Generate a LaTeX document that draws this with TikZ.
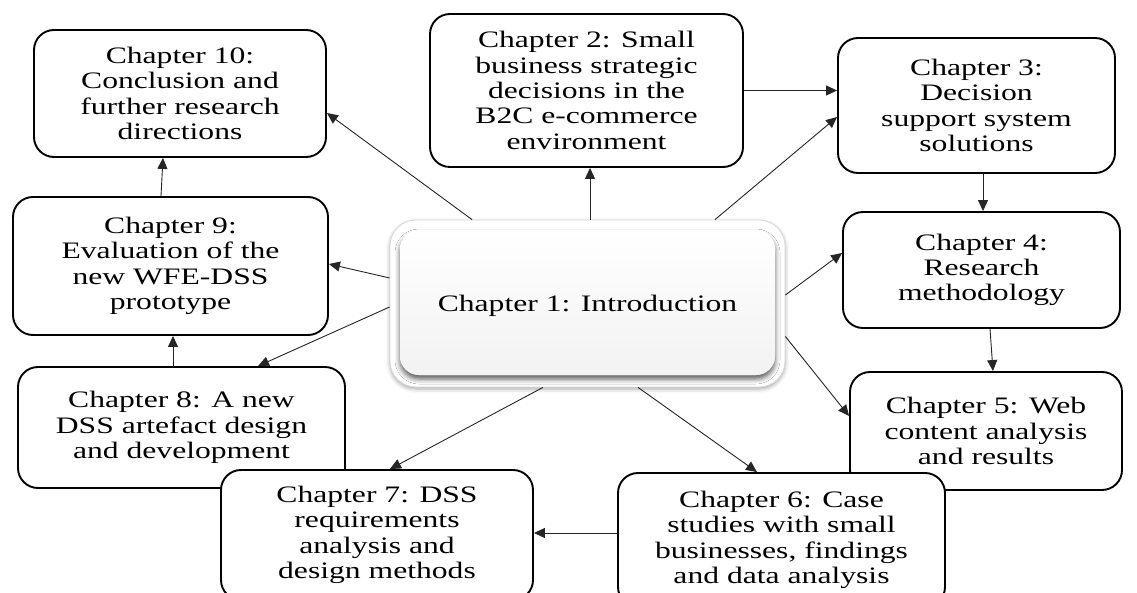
\documentclass[tikz,border=0pt]{standalone}
\usepackage{fontspec}
\setmainfont{Liberation Serif}[FakeStretch=1.34]
\usetikzlibrary{arrows.meta,calc,shadows.blur}

\newcommand\chapfont{\fontsize{23.6}{25.3}\selectfont}
% taller first line, so the text block sits a little lower in its box
\newcommand\toplift{\rule{0pt}{22pt}}

\tikzset{
  chap/.style={draw, line width=1.9pt, rounded corners=20pt, fill=white,
    align=center, font=\chapfont, inner sep=0pt, text=black,
    execute at begin node=\toplift},
  link/.style={line width=0.9pt, draw=black!85,
    -{Triangle[length=11pt,width=10pt]}},
  hub/.style={rounded corners=26pt, fill=white, draw=gray!30, line width=0.8pt,
    minimum width=395pt, minimum height=167pt, inner sep=0pt,
    font=\chapfont, text=black, execute at begin node=\toplift,
    blur shadow={shadow xshift=0pt, shadow yshift=-2pt,
      shadow blur radius=4pt, shadow opacity=35},
    path picture={
      \path[fill=gray!15, rounded corners=19pt,
        blur shadow={shadow xshift=0pt, shadow yshift=-4pt,
          shadow blur radius=5pt, shadow opacity=65}]
        ([xshift=10pt,yshift=-10pt]path picture bounding box.north west)
        rectangle ([xshift=-10pt,yshift=12pt]path picture bounding box.south east);
      \shade[top color=white, bottom color=gray!10, rounded corners=19pt]
        ([xshift=10pt,yshift=-10pt]path picture bounding box.north west)
        rectangle ([xshift=-10pt,yshift=12pt]path picture bounding box.south east);
    }},
}

\begin{document}
\begin{tikzpicture}[x=1pt, y=-1pt]
  \useasboundingbox (0,0) rectangle (1137,593);
  \clip (0,0) rectangle (1137,593);

  % outer chapters, clockwise from chapter 2
  \node[chap, minimum width=313pt, minimum height=153pt] (t2) at (586.5,90.5)
    {Chapter 2: Small\\business strategic\\decisions in the\\B2C e-commerce\\environment};
  \node[chap, minimum width=277pt, minimum height=135pt] (t3) at (976.5,105.5)
    {Chapter 3:\\Decision\\support system\\solutions};
  \node[chap, minimum width=277pt, minimum height=116pt] (t4) at (981.5,270)
    {Chapter 4:\\Research\\methodology};
  \node[chap, minimum width=272pt, minimum height=118pt] (t5) at (986,431)
    {Chapter 5: Web\\content analysis\\and results};
  \node[chap, minimum width=327pt, minimum height=134pt] (t6) at (781.5,540)
    {Chapter 6: Case\\studies with small\\businesses, findings\\and data analysis};
  \node[chap, minimum width=327pt, minimum height=121pt] (t8) at (181.5,427.5)
    {Chapter 8: A new\\DSS artefact design\\and development};
  \node[chap, minimum width=312pt, minimum height=130pt] (t7) at (377,535)
    {Chapter 7: DSS\\requirements\\analysis and\\design methods};
  \node[chap, minimum width=315pt, minimum height=138pt] (t9) at (170.5,266)
    {Chapter 9:\\Evaluation of the\\new WFE-DSS\\prototype};
  \node[chap, minimum width=292pt, minimum height=127pt] (t10) at (180,93.5)
    {Chapter 10:\\Conclusion and\\further research\\directions};

  % central chapter
  \node[hub] (c) at (587.5,303.5) {Chapter 1: Introduction};

  % links from the introduction
  \draw[link] ($(c.north)+(-115.5,0)$) -- ($(t10.east)+(0,19.5)$);
  \draw[link] ($(c.north)+(2.5,0)$) -- ($(t2.south)+(3.5,0)$);
  \draw[link] ($(c.north)+(127.5,0)$) -- ($(t3.west)+(0,11.5)$);
  \draw[link] ($(c.east)+(0,-8.5)$) -- ($(t4.west)+(0,-17)$);
  \draw[link] ($(c.east)+(0,33)$) -- ($(t5.west)+(0,-15)$);
  \draw[link] ($(c.south)+(50.5,0)$) -- ($(t6.north)+(-24.5,0)$);
  \draw[link] ($(c.south)+(-44.5,0)$) -- ($(t7.north)+(13,0)$);
  \draw[link] ($(c.west)+(0,3.5)$) -- ($(t8.north)+(76.5,0)$);
  \draw[link] ($(c.west)+(0,-25.5)$) -- ($(t9.east)+(0,-2)$);

  % reading order between chapters
  \coordinate (s67) at ($(t6.west)+(0,-7)$);
  \draw[link] (t2.east) -- (t2.east -| t3.west);
  \draw[link] ($(t3.south)+(6.5,0)$) -- ($(t4.north)+(1.5,0)$);
  \draw[link] ($(t4.south)+(8.5,0)$) -- ($(t5.north)+(7,0)$);
  \draw[link] (s67) -- (s67 -| t7.east);
  \draw[link] ($(t8.north)+(-8.5,0)$) -- ($(t9.south)+(2.5,0)$);
  \draw[link] ($(t9.north)+(-9.5,0)$) -- ($(t10.south)+(-17,0)$);
\end{tikzpicture}
\end{document}
